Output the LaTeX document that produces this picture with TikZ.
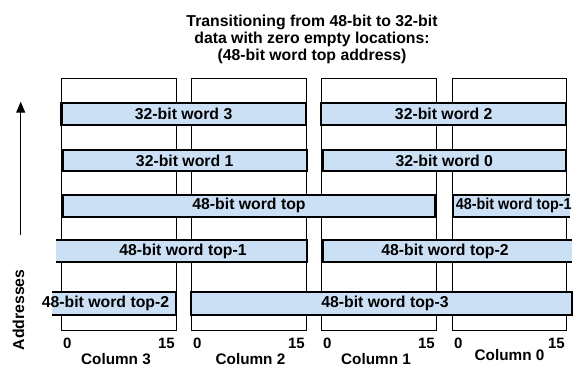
\documentclass[tikz,border=0pt]{standalone}
\usepackage{fontspec}
\usepackage{graphicx}
\setmainfont{Liberation Sans}
\usetikzlibrary{arrows.meta}
\definecolor{barblue}{RGB}{204,224,245}
\tikzset{
  colline/.style={draw=black, line width=1pt},
  barfill/.style={fill=barblue},
  barline/.style={draw=black, line width=2.2pt},
  bartext/.style={font=\fontsize{15.8}{18}\selectfont\bfseries, inner sep=0pt},
  numtext/.style={font=\fontsize{15}{18}\selectfont\bfseries, inner sep=0pt},
  coltext/.style={font=\fontsize{15.3}{18}\selectfont\bfseries, inner sep=0pt},
  titletext/.style={font=\fontsize{15.8}{18}\selectfont\bfseries, inner sep=0pt, anchor=base},
}
\begin{document}
\begin{tikzpicture}[x=1pt,y=-1pt]
\useasboundingbox (0,0) rectangle (581,367);
% title
\node[titletext] (t1) at (312,26.7) {Transitioning from 48-bit to 32-bit};
\node[titletext] (t2) at (312,43.3) {data with zero empty locations:};
\node[titletext] (t3) at (312,60) {(48-bit word top address)};
% columns
\draw[colline] (61,78.5) rectangle (176,330);
\draw[colline] (191,78.5) rectangle (306,330);
\draw[colline] (321,78.5) rectangle (436,330);
\draw[colline] (452,78.5) rectangle (566,330);
% row 1
\draw[barfill, barline] (61.5,102.7) rectangle (305.7,124.7);
\node[bartext] (w3) at (183.6,113.7) {32-bit word 3};
\draw[barfill, barline] (321.3,102.7) rectangle (566,124.7);
\node[bartext] (w2) at (443.7,113.7) {32-bit word 2};
% row 2
\draw[barfill, barline] (62.7,150) rectangle (306.7,171.3);
\node[bartext] (w1) at (184.7,160.7) {32-bit word 1};
\draw[barfill, barline] (322.7,150) rectangle (566,171.3);
\node[bartext] (w0) at (444.3,160.7) {32-bit word 0};
% row 3
\draw[barfill, barline] (62.7,194.7) rectangle (434.7,216.7);
\node[bartext] (wtop) at (249,205.7) {48-bit word top};
\fill[barfill] (452,193.6) rectangle (570,217.8);
\draw[barline] (570,194.7) -- (453.1,194.7) -- (453.1,216.7) -- (570,216.7);
\node[bartext, anchor=west] (wtopm1b) at (455.7,205.7) {\scalebox{0.91}[1]{48-bit word top-1}};
% row 4
\fill[barfill] (56,239.2) rectangle (308.4,263.4);
\draw[barline] (56,240.3) -- (307.3,240.3) -- (307.3,262.3) -- (56,262.3);
\node[bartext] (wtopm1) at (183,251.3) {48-bit word top-1};
\fill[barfill] (322,239.2) rectangle (572,263.4);
\draw[barline] (572,240.3) -- (323.1,240.3) -- (323.1,262.3) -- (572,262.3);
\node[bartext] (wtopm2) at (445,251.3) {48-bit word top-2};
% row 5
\fill[barfill] (51.7,290.9) rectangle (176.8,316.1);
\draw[barline] (51.7,292) -- (175.7,292) -- (175.7,315) -- (51.7,315);
\node[bartext] (wtopm2b) at (105.5,303.5) {48-bit word top-2};
\draw[barfill, barline] (191,292) rectangle (572.3,315);
\node[bartext] (wtopm3) at (385,303.5) {48-bit word top-3};
% bit numbers
\node[numtext, anchor=west] (z3) at (63,343) {0};
\node[numtext, anchor=east] (f3) at (175,343) {15};
\node[numtext, anchor=west] (z2) at (193,343) {0};
\node[numtext, anchor=east] (f2) at (305,343) {15};
\node[numtext, anchor=west] (z1) at (323,343) {0};
\node[numtext, anchor=east] (f1) at (435,343) {15};
\node[numtext, anchor=west] (z0) at (454,343) {0};
\node[numtext, anchor=east] (f0) at (565,343) {15};
% column labels
\node[coltext] (c3) at (116,359.5) {Column 3};
\node[coltext] (c2) at (250.5,359.5) {Column 2};
\node[coltext] (c1) at (376,359.5) {Column 1};
\node[coltext] (c0) at (509.5,355) {Column 0};
% address arrow
\coordinate (abot) at (20.7,235);
\coordinate (atop) at (20.7,101.7);
\draw[line width=1pt, -{Triangle[width=9pt,length=11pt]}] (abot) -- (atop);
\node[bartext, rotate=90] (addr) at (18.5,310) {Addresses};
\end{tikzpicture}
\end{document}
